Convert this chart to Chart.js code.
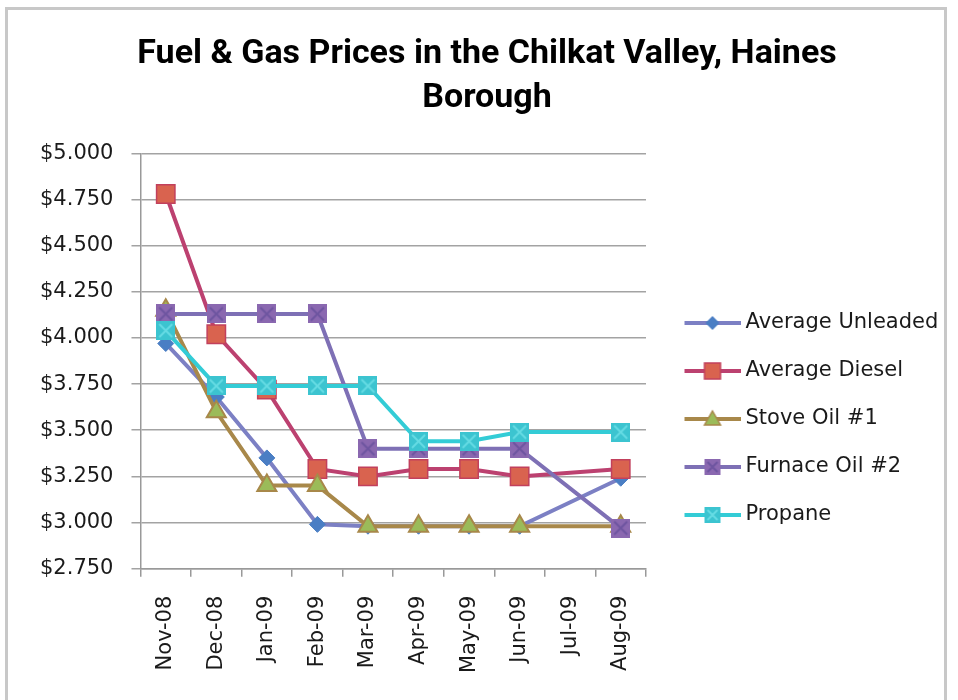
<!DOCTYPE html>
<html>
<head>
<meta charset="utf-8">
<title>Fuel & Gas Prices in the Chilkat Valley</title>
<script src="https://cdn.jsdelivr.net/npm/chart.js@4/dist/chart.umd.min.js"></script>
<style>
    html, body { margin: 0; padding: 0; background: #fff; }
    #frame {
        position: absolute; left: 5px; top: 7px; width: 942px; height: 730px;
        border: 3px solid #c8c8c8; box-sizing: border-box;
    }
    #wrap { position: absolute; left: 0; top: 0; width: 958px; height: 700px; }
</style>
</head>
<body>
<div id="frame"></div>
<div id="wrap"><canvas id="chartFuel" width="958" height="700"></canvas></div>
<script>
const months = ["Nov-08", "Dec-08", "Jan-09", "Feb-09", "Mar-09", "Apr-09", "May-09", "Jun-09", "Jul-09", "Aug-09"];
const seriesNames = ["Average Unleaded", "Average Diesel", "Stove Oil #1", "Furnace Oil #2", "Propane"];

// no survey in Jul-09, lines jump straight to Aug-09
const unleaded   = [3.97, 3.68, 3.35, 2.99, 2.98, 2.98, 2.98, 2.98, null, 3.24];
const diesel     = [4.78, 4.02, 3.72, 3.29, 3.25, 3.29, 3.29, 3.25, null, 3.29];
const stoveOil   = [4.15, 3.60, 3.20, 3.20, 2.98, 2.98, 2.98, 2.98, null, 2.98];
const furnaceOil = [4.13, 4.13, 4.13, 4.13, 3.40, 3.40, 3.40, 3.40, null, 2.97];
const propane    = [4.04, 3.74, 3.74, 3.74, 3.74, 3.44, 3.44, 3.49, null, 3.49];

const yMin = 2.75;
const yMax = 5.0;
const yStep = 0.25;

const FONT = "'DejaVu Sans', sans-serif";
const LEGEND_WIDTH = 306;

// square marker with a diagonal cross, like the Excel "x" marker
function crossSquare(size, fill, cross) {
    const c = document.createElement("canvas");
    c.width = size;
    c.height = size;
    const g = c.getContext("2d");
    g.fillStyle = fill;
    g.fillRect(0, 0, size, size);
    g.strokeStyle = cross;
    g.lineWidth = 2;
    g.beginPath();
    g.moveTo(3, 3); g.lineTo(size - 3, size - 3);
    g.moveTo(size - 3, 3); g.lineTo(3, size - 3);
    g.stroke();
    return c;
}

// legend icon: a short line with the marker in the middle (17px blank on the left)
function legendIcon(lineColor, drawMarker) {
    const c = document.createElement("canvas");
    c.width = 73;
    c.height = 22;
    const g = c.getContext("2d");
    g.strokeStyle = lineColor;
    g.lineWidth = 4;
    g.beginPath();
    g.moveTo(17, 11);
    g.lineTo(73, 11);
    g.stroke();
    drawMarker(g, 45, 11);
    return c;
}

const colors = {
    unleaded: { line: "#7C80C4", fill: "#4A7EC4", edge: "#4A7EC4" },
    diesel:   { line: "#BC4170", fill: "#D9634F", edge: "#C2405C" },
    stove:    { line: "#A8884A", fill: "#9BBB59", edge: "#A8884A" },
    furnace:  { line: "#7E70B5", fill: "#8A68B0", edge: "#6E55A0" },
    propane:  { line: "#33CCD6", fill: "#3CC4D0", edge: "#66DCE4" },
};

const furnaceMarker = crossSquare(19, colors.furnace.fill, colors.furnace.edge);
const propaneMarker = crossSquare(19, colors.propane.fill, colors.propane.edge);

const icons = [
    legendIcon(colors.unleaded.line, (g, x, y) => {
        g.fillStyle = colors.unleaded.fill;
        g.beginPath();
        g.moveTo(x, y - 7); g.lineTo(x + 7, y); g.lineTo(x, y + 7); g.lineTo(x - 7, y);
        g.closePath();
        g.fill();
    }),
    legendIcon(colors.diesel.line, (g, x, y) => {
        g.fillStyle = colors.diesel.fill;
        g.strokeStyle = colors.diesel.edge;
        g.lineWidth = 1.5;
        g.fillRect(x - 8, y - 8, 16, 16);
        g.strokeRect(x - 8, y - 8, 16, 16);
    }),
    legendIcon(colors.stove.line, (g, x, y) => {
        g.fillStyle = colors.stove.fill;
        g.strokeStyle = colors.stove.edge;
        g.lineWidth = 1.5;
        g.beginPath();
        g.moveTo(x, y - 8); g.lineTo(x + 8, y + 6); g.lineTo(x - 8, y + 6);
        g.closePath();
        g.fill();
        g.stroke();
    }),
    legendIcon(colors.furnace.line, (g, x, y) => {
        g.drawImage(crossSquare(16, colors.furnace.fill, colors.furnace.edge), x - 8, y - 8);
    }),
    legendIcon(colors.propane.line, (g, x, y) => {
        g.drawImage(crossSquare(16, colors.propane.fill, colors.propane.edge), x - 8, y - 8);
    }),
];

const datasets = [
    {
        label: seriesNames[0], data: unleaded, order: 4,
        borderColor: colors.unleaded.line, pointStyle: "rectRot", pointRadius: 8,
        pointBackgroundColor: colors.unleaded.fill, pointBorderColor: colors.unleaded.edge, pointBorderWidth: 1,
    },
    {
        label: seriesNames[1], data: diesel, order: 3,
        borderColor: colors.diesel.line, pointStyle: "rect", pointRadius: 13,
        pointBackgroundColor: colors.diesel.fill, pointBorderColor: colors.diesel.edge, pointBorderWidth: 1.5,
    },
    {
        label: seriesNames[2], data: stoveOil, order: 2,
        borderColor: colors.stove.line, pointStyle: "triangle", pointRadius: 11,
        pointBackgroundColor: colors.stove.fill, pointBorderColor: colors.stove.edge, pointBorderWidth: 2,
    },
    {
        label: seriesNames[3], data: furnaceOil, order: 1,
        borderColor: colors.furnace.line, pointStyle: furnaceMarker,
    },
    {
        label: seriesNames[4], data: propane, order: 0,
        borderColor: colors.propane.line, pointStyle: propaneMarker,
    },
];

datasets.forEach((ds) => {
    ds.borderWidth = 4;
    ds.tension = 0;
    ds.fill = false;
    ds.spanGaps = true;
    ds.backgroundColor = ds.borderColor;
});

// the layout caps a side legend at a quarter of the width; give it the room Excel gives it
const legendRoom = {
    id: "legendRoom",
    beforeLayout(chart) {
        const legend = chart.legend;
        if (!legend || legend._roomPatched) {
            return;
        }
        const fit = legend.fit;
        legend.fit = function () {
            fit.call(this);
            this.width = LEGEND_WIDTH;
        };
        legend._roomPatched = true;
    },
};

new Chart(document.getElementById("chartFuel").getContext("2d"), {
    type: "line",
    data: { labels: months, datasets },
    plugins: [legendRoom],
    options: {
        responsive: false,
        animation: false,
        layout: { padding: { left: 22, right: 6, top: 0, bottom: 8 } },
        scales: {
            x: {
                offset: true,
                grid: { offset: true, drawOnChartArea: false, tickLength: 8, color: "#999", lineWidth: 1.5 },
                border: { color: "#999", width: 1.5 },
                ticks: {
                    minRotation: 90, maxRotation: 90, padding: 19,
                    color: "#1a1a1a", font: { family: FONT, size: 21 },
                },
            },
            y: {
                min: yMin,
                max: yMax,
                grid: { color: "#a3a3a3", lineWidth: 1.5, tickLength: 9 },
                border: { color: "#999", width: 1.5 },
                ticks: {
                    stepSize: yStep, padding: 18,
                    color: "#1a1a1a", font: { family: FONT, size: 21 },
                    callback: (v) => "$" + Number(v).toFixed(3),
                },
            },
        },
        plugins: {
            tooltip: { enabled: false },
            title: {
                display: true,
                text: ["Fuel & Gas Prices in the Chilkat Valley, Haines", "Borough"],
                color: "#000",
                font: { family: "Roboto, sans-serif", size: 34, weight: "bold", lineHeight: 1.3 },
                padding: { top: 32, bottom: 33 },
            },
            legend: {
                position: "right",
                title: { display: true, text: " ", font: { size: 10 }, padding: { top: 134, bottom: 0 } },
                labels: {
                    usePointStyle: true,
                    pointStyleWidth: 62,
                    padding: 27,
                    color: "#1a1a1a",
                    font: { family: FONT, size: 21 },
                    generateLabels(chart) {
                        const items = Chart.defaults.plugins.legend.labels.generateLabels(chart);
                        items.sort((a, b) => a.datasetIndex - b.datasetIndex);
                        items.forEach((it) => { it.pointStyle = icons[it.datasetIndex]; });
                        return items;
                    },
                },
            },
        },
    },
});
</script>
</body>
</html>
